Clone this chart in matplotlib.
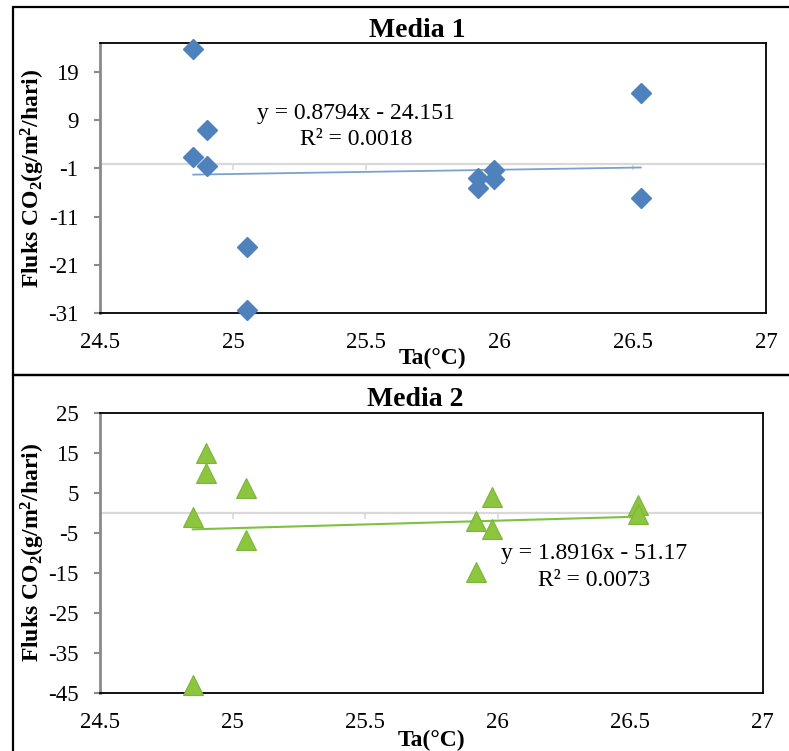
import matplotlib
matplotlib.use("Agg")
import matplotlib.pyplot as plt
from matplotlib.patches import Rectangle

plt.rcParams['font.family'] = ['Liberation Serif', 'DejaVu Serif']
plt.rcParams['mathtext.fontset'] = 'custom'
plt.rcParams['mathtext.rm'] = 'Liberation Serif'
plt.rcParams['mathtext.bf'] = 'Liberation Serif:bold'
plt.rcParams['mathtext.it'] = 'Liberation Serif:italic'

# ---- data ----
media1_x = [24.85, 24.90, 24.85, 24.90, 25.05, 25.05, 25.92, 25.92, 25.98, 25.98, 26.53, 26.53]
media1_y = [23.7, 7.0, 1.3, -0.6, -17.3, -30.3, -2.9, -5.0, -1.4, -3.2, 14.6, -7.2]
media1_slope, media1_intercept = 0.8794, -24.151
media1_eq = "y = 0.8794x - 24.151"
media1_r2 = "R² = 0.0018"

media2_x = [24.90, 24.90, 25.05, 24.85, 25.05, 24.85, 25.98, 25.98, 25.92, 25.92, 26.53, 26.53]
media2_y = [15.0, 10.0, 6.3, -1.1, -6.8, -43.0, 4.0, -4.1, -2.0, -14.7, 1.9, -0.3]
media2_slope, media2_intercept = 1.8916, -51.17
media2_eq = "y = 1.8916x - 51.17"
media2_r2 = "R² = 0.0073"

xticks = [24.5, 25, 25.5, 26, 26.5, 27]
xtick_labels = ["24.5", "25", "25.5", "26", "26.5", "27"]
yticks1 = [-31, -21, -11, -1, 9, 19]
yticks2 = [-45, -35, -25, -15, -5, 5, 15, 25]
ylim1 = (-31, 25)
ylim2 = (-45, 25)
xlim = (24.5, 27)

W, H = 789, 751
fig = plt.figure(figsize=(W / 100, H / 100), dpi=100)

def fx(px):
    return px / W

def fy(py):
    return 1 - py / H

ax1 = fig.add_axes([fx(100), fy(313), fx(766) - fx(100), fy(43) - fy(313)])
ax2 = fig.add_axes([fx(100), fy(692.7), fx(762.7) - fx(100), fy(412.7) - fy(692.7)])

blue = '#4F81BD'
green = '#8CC63F'

def style(ax, yticks, ylim):
    ax.set_xlim(*xlim)
    ax.set_ylim(*ylim)
    ax.set_xticks(xticks)
    ax.set_xticklabels(xtick_labels)
    ax.set_yticks(yticks)
    ax.set_yticklabels([str(v) for v in yticks])
    for s in ['top', 'right', 'bottom']:
        ax.spines[s].set_color('black')
        ax.spines[s].set_linewidth(1.3)
    ax.spines['left'].set_color('#8A8A8A')
    ax.spines['left'].set_linewidth(2.0)
    ax.tick_params(axis='x', length=0, pad=14, labelsize=16.5, colors='black')
    ax.tick_params(axis='y', length=4.5, width=1.5, color='#8A8A8A', pad=11,
                   labelsize=16.5, labelcolor='black', direction='out')
    # horizontal axis line at zero
    sec = ax.secondary_xaxis(0, transform=ax.transData)
    sec.set_xticks(xticks)
    sec.tick_params(axis='x', length=4, width=1.2, color='#D9D9D9',
                    direction='out', labelbottom=False)
    sec.spines['bottom'].set_color('#D9D9D9')
    sec.spines['bottom'].set_linewidth(1.6)
    sec.set_zorder(1)

style(ax1, yticks1, ylim1)
style(ax2, yticks2, ylim2)

# Media 1
ax1.plot(media1_x, media1_y, linestyle='none', marker='D', markersize=10,
         color=blue, markeredgecolor=blue, zorder=5, clip_on=False)
tx1 = [min(media1_x), max(media1_x)]
ax1.plot(tx1, [media1_slope * v + media1_intercept for v in tx1], color='#7BA0D4',
         linewidth=1.3, zorder=4)
ax1.text(0.384, 0.739, media1_eq, transform=ax1.transAxes, ha='center', va='center', fontsize=17)
ax1.text(0.384, 0.641, media1_r2, transform=ax1.transAxes, ha='center', va='center', fontsize=17)

# Media 2
ax2.plot(media2_x, media2_y, linestyle='none', marker='^', markersize=14.4,
         color=green, markeredgecolor='#7DB53A', markeredgewidth=0.8, zorder=5, clip_on=False)
tx2 = [min(media2_x), max(media2_x)]
ax2.plot(tx2, [media2_slope * v + media2_intercept for v in tx2], color='#7CC242',
         linewidth=1.5, zorder=4)
ax2.text(0.745, 0.498, media2_eq, transform=ax2.transAxes, ha='center', va='center', fontsize=17)
ax2.text(0.745, 0.402, media2_r2, transform=ax2.transAxes, ha='center', va='center', fontsize=17)

ylab = r'Fluks CO$_\mathbf{2}$(g/m$^\mathbf{2}$/hari)'
for ax, title in [(ax1, 'Media 1'), (ax2, 'Media 2')]:
    ax.text(0.476, 1.048, title, transform=ax.transAxes, ha='center', va='center',
            fontsize=20, fontweight='bold')
    ax.set_ylabel(ylab, fontsize=17, fontweight='bold')
    ax.yaxis.set_label_coords(-0.101, 0.5)
    ax.yaxis.label.set_va('center')
    ax.set_xlabel('Ta(°C)', fontsize=17, fontweight='bold')
    ax.xaxis.label.set_va('center')
ax1.xaxis.set_label_coords(0.4985, -0.167)
ax2.xaxis.set_label_coords(0.4995, -0.169)

# outer panel frames
fig.patches.append(Rectangle((fx(12.5), fy(375)), 1.2, fy(7) - fy(375), transform=fig.transFigure,
                             fill=False, edgecolor='black', linewidth=1.6, clip_on=False))
fig.patches.append(Rectangle((fx(12.5), fy(760)), 1.2, fy(375) - fy(760), transform=fig.transFigure,
                             fill=False, edgecolor='black', linewidth=1.6, clip_on=False))

fig.savefig('out.png', dpi=100)
